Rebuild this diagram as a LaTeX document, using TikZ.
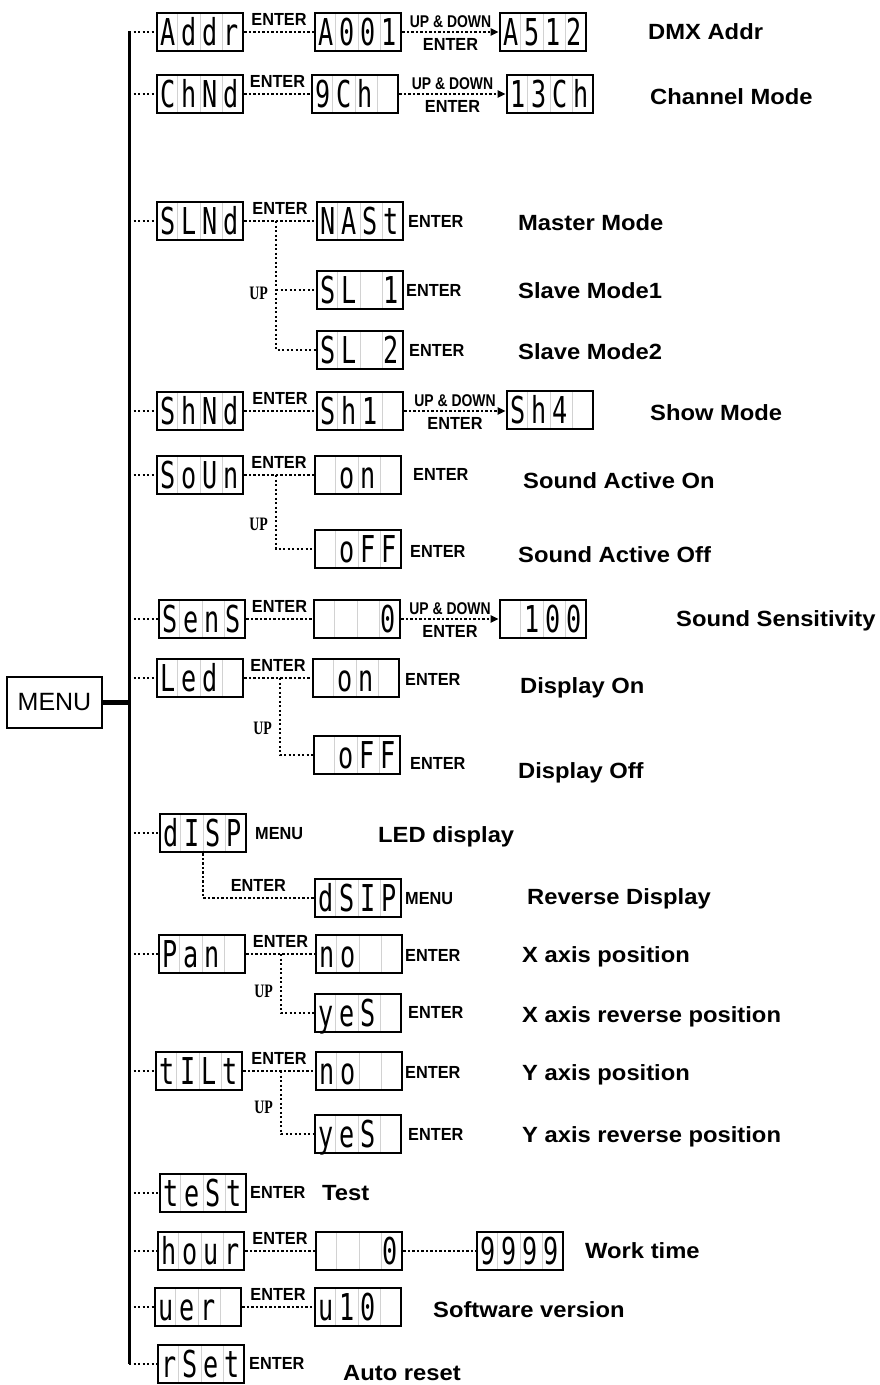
\documentclass[tikz,border=0pt]{standalone}
\usepackage{fontspec}
\setmainfont{Liberation Sans}
\newfontfamily\segfont[FakeStretch=0.68]{DejaVu Sans Mono}
\newfontfamily\keyfont[FakeStretch=0.93]{Liberation Sans}
\newfontfamily\smallkeyfont[FakeStretch=0.82]{Liberation Sans}
\newfontfamily\upfont[FakeStretch=0.73]{Liberation Serif}
\newfontfamily\descfont[FakeStretch=1.08]{Liberation Sans}
\usetikzlibrary{arrows.meta,calc}
\pgfdeclarelayer{bg}
\pgfsetlayers{bg,main}
\newcommand\segcells[4]{\makebox[21pt]{#1}\makebox[21pt]{#2}\makebox[21pt]{#3}\makebox[21pt]{#4}}
\begin{document}
\begin{tikzpicture}[x=1pt,y=-1pt,
  disp/.style={draw, line width=2.6pt, minimum width=86pt, minimum height=38pt, inner sep=0pt,
    text height=27pt, text depth=0pt, font=\segfont\fontsize{37}{37}\selectfont},
  menubox/.style={draw, line width=1.5pt, minimum width=95pt, minimum height=51pt, inner sep=0pt,
    font=\fontsize{25}{25}\selectfont},
  key/.style={font=\keyfont\bfseries\fontsize{17.5}{17.5}\selectfont, inner sep=0pt, text height=12.5pt, text depth=0pt},
  smallkey/.style={font=\smallkeyfont\bfseries\fontsize{17}{17}\selectfont, inner sep=0pt, text height=12.2pt, text depth=0pt},
  uplabel/.style={font=\upfont\bfseries\fontsize{19}{19}\selectfont, inner sep=0pt, text height=12.6pt, text depth=0pt, anchor=east},
  desc/.style={font=\descfont\bfseries\fontsize{22}{22}\selectfont, inner sep=0pt, text height=15.8pt, text depth=0pt, anchor=west},
  dot/.style={line width=2.5pt, dash pattern=on 2.3pt off 2.2pt},
  dotarrow/.style={dot, -{Triangle[length=8pt,width=7pt]}},
  bus/.style={line width=3pt},
  menuline/.style={line width=4.5pt},
  sep/.style={gray!35, line width=0.8pt, shorten >=2pt, shorten <=2pt}
]
\begin{pgfonlayer}{bg}
\fill[white] (0,0) rectangle (879,1385);
\end{pgfonlayer}
\useasboundingbox (0,0) rectangle (879,1385);

% MENU and bus
\node[menubox] (menu) at (54.5,702.5) {MENU};
\coordinate (btop) at (129,31);
\coordinate (bbot) at (129,1364);
\coordinate (bmenu) at (129,702.5);
\draw[bus] (btop) -- (bbot);
\draw[menuline] (menu.east) -- (bmenu);

% Row 1: Addr
\node[disp] (addr) at (200,32) {\segcells Addr};
\node[disp] (a001) at (358,32) {\segcells A001};
\node[disp] (a512) at (543,32) {\segcells A512};
\draw[dot] (addr.west -| btop) -- (addr.west);
\draw[dot] (addr) -- node[key,above=5pt] (e1) {ENTER} (a001);
\draw[dotarrow] (a001) -- node[smallkey,above=3pt] (ud1) {UP \& DOWN} node[key,below=5pt] (e1b) {ENTER} (a512);
\node[desc] (d1) at (648,32) {DMX Addr};

% Row 2: ChNd
\node[disp] (chnd) at (200,94) {\segcells ChNd};
\node[disp] (ch9) at (355,94) {\segcells 9Ch{}};
\node[disp] (ch13) at (550,94) {\segcells 13Ch};
\draw[dot] (chnd.west -| btop) -- (chnd.west);
\draw[dot] (chnd) -- node[key,above=5pt] (e2) {ENTER} (ch9);
\draw[dotarrow] (ch9) -- node[smallkey,above=3pt] (ud2) {UP \& DOWN} node[key,below=5pt] (e2b) {ENTER} (ch13);
\node[desc] (d2) at (650,97) {Channel Mode};

% Row 3: SLNd
\node[disp] (slnd) at (200,221) {\segcells SLNd};
\node[disp] (nast) at (360,221) {\segcells NASt};
\node[disp] (sl1) at (360,290) {\segcells SL{}1};
\node[disp] (sl2) at (360,350) {\segcells SL{}2};
\coordinate (j3) at (276,221);
\draw[dot] (slnd.west -| btop) -- (slnd.west);
\draw[dot] (slnd) -- node[key,above=5pt] (e3) {ENTER} (nast);
\draw[dot] (j3) |- (sl2.west);
\draw[dot] (j3 |- sl1.west) -- (sl1.west);
\node[uplabel] (u3) at (268,293) {UP};
\node[key,anchor=west] (e3a) at (408,221) {ENTER};
\node[key,anchor=west] (e3b) at (406,290) {ENTER};
\node[key,anchor=west] (e3c) at (409,350) {ENTER};
\node[desc] (d3a) at (518,223) {Master Mode};
\node[desc] (d3b) at (518,291) {Slave Mode1};
\node[desc] (d3c) at (518,352) {Slave Mode2};

% Row 4: ShNd
\node[disp] (shnd) at (200,411) {\segcells ShNd};
\node[disp] (sh1) at (360,411) {\segcells Sh1{}};
\node[disp] (sh4) at (550,410) {\segcells Sh4{}};
\draw[dot] (shnd.west -| btop) -- (shnd.west);
\draw[dot] (shnd) -- node[key,above=5pt] (e4) {ENTER} (sh1);
\draw[dotarrow] (sh1.east) -- node[smallkey,above=3pt] (ud4) {UP \& DOWN} node[key,below=5pt] (e4b) {ENTER} (sh1.east -| sh4.west);
\node[desc] (d4) at (650,413) {Show Mode};

% Row 5: SoUn
\node[disp] (soun) at (200,475) {\segcells SoUn};
\node[disp] (on1) at (358,475) {\segcells{}on{}};
\node[disp] (off1) at (358,549) {\segcells{}oFF};
\coordinate (j5) at (276,475);
\draw[dot] (soun.west -| btop) -- (soun.west);
\draw[dot] (soun) -- node[key,above=5pt] (e5) {ENTER} (on1);
\draw[dot] (j5) |- (off1.west);
\node[uplabel] (u5) at (268,524) {UP};
\node[key,anchor=west] (e5a) at (413,474) {ENTER};
\node[key,anchor=west] (e5b) at (410,551) {ENTER};
\node[desc] (d5a) at (523,481) {Sound Active On};
\node[desc] (d5b) at (518,555) {Sound Active Off};

% Row 6: SenS
\node[disp] (sens) at (202,619) {\segcells SenS};
\node[disp] (sens0) at (357,619) {\segcells{}{}{}0};
\node[disp] (s100) at (543,619) {\segcells{}100};
\draw[dot] (sens.west -| btop) -- (sens.west);
\draw[dot] (sens) -- node[key,above=5pt] (e6) {ENTER} (sens0);
\draw[dotarrow] (sens0) -- node[smallkey,above=3pt] (ud6) {UP \& DOWN} node[key,below=5pt] (e6b) {ENTER} (s100);
\node[desc] (d6) at (676,619) {Sound Sensitivity};

% Row 7: Led
\node[disp] (led) at (200,678) {\segcells Led{}};
\node[disp] (on2) at (356,678) {\segcells{}on{}};
\node[disp] (off2) at (357,755) {\segcells{}oFF};
\coordinate (j7) at (280,678);
\draw[dot] (led.west -| btop) -- (led.west);
\draw[dot] (led) -- node[key,above=5pt] (e7) {ENTER} (on2);
\draw[dot] (j7) |- (off2.west);
\node[uplabel] (u7) at (272,728) {UP};
\node[key,anchor=west] (e7a) at (405,679) {ENTER};
\node[key,anchor=west] (e7b) at (410,763) {ENTER};
\node[desc] (d7a) at (520,686) {Display On};
\node[desc] (d7b) at (518,771) {Display Off};

% Row 8: dISP
\node[disp] (disp) at (203,833) {\segcells dISP};
\node[disp] (dsip) at (358,898) {\segcells dSIP};
\draw[dot] (disp.west -| btop) -- (disp.west);
\draw[dot] (disp.south) |- node[key,above=5pt,pos=0.75] (e8) {ENTER} (dsip.west);
\node[key,anchor=west] (m8a) at (255,833) {MENU};
\node[key,anchor=west] (m8b) at (405,898) {MENU};
\node[desc] (d8a) at (378,835) {LED display};
\node[desc] (d8b) at (527,897) {Reverse Display};

% Row 9: Pan
\node[disp] (pan) at (202,954) {\segcells Pan{}};
\node[disp] (no1) at (359,954) {\segcells no{}{}};
\node[disp] (yes1) at (358,1013) {\segcells yeS{}};
\coordinate (j9) at (281,954);
\draw[dot] (pan.west -| btop) -- (pan.west);
\draw[dot] (pan) -- node[key,above=5pt] (e9) {ENTER} (no1);
\draw[dot] (j9) |- (yes1.west);
\node[uplabel] (u9) at (273,991) {UP};
\node[key,anchor=west] (e9a) at (405,955) {ENTER};
\node[key,anchor=west] (e9b) at (408,1012) {ENTER};
\node[desc] (d9a) at (522,955) {X axis position};
\node[desc] (d9b) at (522,1015) {X axis reverse position};

% Row 10: tILt
\node[disp] (tilt) at (199,1071) {\segcells tILt};
\node[disp] (no2) at (359,1071) {\segcells no{}{}};
\node[disp] (yes2) at (358,1134) {\segcells yeS{}};
\coordinate (j10) at (281,1071);
\draw[dot] (tilt.west -| btop) -- (tilt.west);
\draw[dot] (tilt) -- node[key,above=5pt] (e10) {ENTER} (no2);
\draw[dot] (j10) |- (yes2.west);
\node[uplabel] (u10l) at (273,1107) {UP};
\node[key,anchor=west] (e10a) at (405,1072) {ENTER};
\node[key,anchor=west] (e10b) at (408,1134) {ENTER};
\node[desc] (d10a) at (522,1073) {Y axis position};
\node[desc] (d10b) at (522,1135) {Y axis reverse position};

% Row 11: teSt
\node[disp] (test) at (203,1193) {\segcells teSt};
\draw[dot] (test.west -| btop) -- (test.west);
\node[key,anchor=west] (e11) at (250,1192) {ENTER};
\node[desc] (d11) at (322,1193) {Test};

% Row 12: hour
\node[disp] (hour) at (201,1251) {\segcells hour};
\node[disp] (hour0) at (359,1251) {\segcells{}{}{}0};
\node[disp] (h9999) at (520,1251) {\segcells 9999};
\draw[dot] (hour.west -| btop) -- (hour.west);
\draw[dot] (hour) -- node[key,above=5pt] (e12) {ENTER} (hour0);
\draw[dot] (hour0) -- (h9999);
\node[desc] (d12) at (585,1251) {Work time};

% Row 13: uer
\node[disp] (ver) at (198,1307) {\segcells uer{}};
\node[disp] (u10) at (358,1307) {\segcells u10{}};
\draw[dot] (ver.west -| btop) -- (ver.west);
\draw[dot] (ver) -- node[key,above=5pt] (e13) {ENTER} (u10);
\node[desc] (d13) at (433,1310) {Software version};

% Row 14: rSet
\node[disp] (rset) at (201,1364) {\segcells rSet};
\draw[dot] (bbot) -- (rset.west);
\node[key,anchor=west] (e14) at (249,1363) {ENTER};
\node[desc] (d14) at (343,1373) {Auto reset};

% faint digit separators
\begin{pgfonlayer}{bg}
\foreach \n in {addr,a001,a512,chnd,ch9,ch13,slnd,nast,sl1,sl2,shnd,sh1,sh4,soun,on1,off1,sens,sens0,s100,led,on2,off2,disp,dsip,pan,no1,yes1,tilt,no2,yes2,test,hour,hour0,h9999,ver,u10,rset}{
  \foreach \f in {0.25,0.5,0.75}{
    \draw[sep] ($(\n.north west)!\f!(\n.north east)$) -- ($(\n.south west)!\f!(\n.south east)$);
  }
}
\end{pgfonlayer}
\end{tikzpicture}
\end{document}
